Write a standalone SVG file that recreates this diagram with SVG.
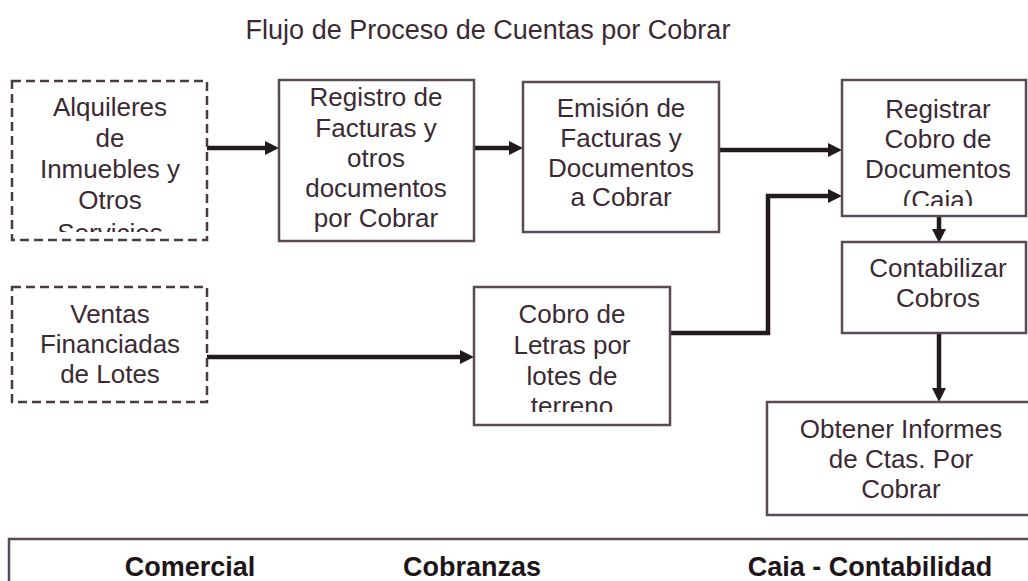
<svg xmlns="http://www.w3.org/2000/svg" width="1028" height="581" viewBox="0 0 1028 581">
<style>
.t{font-family:"Liberation Sans",Arial,sans-serif;font-size:26px;fill:#3b2a33;text-anchor:middle}
.title{font-family:"Liberation Sans",Arial,sans-serif;font-size:27px;fill:#3b2a33;text-anchor:middle}
.lane{font-family:"Liberation Sans",Arial,sans-serif;font-size:27px;font-weight:bold;fill:#1e1519;text-anchor:middle}
.box{fill:#fff;stroke:#5a4a55;stroke-width:2.5}
.dbox{fill:#fff;stroke:#4a3a45;stroke-width:2.5;stroke-dasharray:9 5}
.con{fill:none;stroke:#231a20;stroke-width:4.5}
</style>
<defs>
<marker id="ah" markerUnits="userSpaceOnUse" viewBox="0 -7 14 14" refX="0" refY="0" markerWidth="14" markerHeight="14" orient="auto">
<path d="M0,-7 L14,0 L0,7 z" fill="#231a20"/>
</marker>
<clipPath id="c1"><rect x="12" y="81" width="195" height="151"/></clipPath>
<clipPath id="c4"><rect x="842" y="80" width="185" height="126"/></clipPath>
<clipPath id="c7"><rect x="474" y="287" width="196" height="125"/></clipPath>
</defs>
<rect width="1028" height="581" fill="#fff"/>
<text class="title" x="488" y="39">Flujo de Proceso de Cuentas por Cobrar</text>

<g id="connectors">
<path class="con" d="M207,148 H265" marker-end="url(#ah)"/>
<path class="con" d="M474,148 H509" marker-end="url(#ah)"/>
<path class="con" d="M719,150 H828" marker-end="url(#ah)"/>
<path class="con" d="M207,357 H460" marker-end="url(#ah)"/>
<path class="con" d="M670,333 H768 V196 H828" marker-end="url(#ah)"/>
<path class="con" d="M939,217 V229" marker-end="url(#ah)"/>
<path class="con" d="M939,333 V388" marker-end="url(#ah)"/>
</g>

<g id="n-alquileres">
<rect class="dbox" x="12" y="81" width="195" height="159"/>
<g clip-path="url(#c1)">
<text class="t" x="110" y="116">Alquileres</text>
<text class="t" x="110" y="147">de</text>
<text class="t" x="110" y="178">Inmuebles y</text>
<text class="t" x="110" y="209">Otros</text>
<text class="t" x="110" y="242">Servicios</text>
</g>
</g>

<g id="n-registro">
<rect class="box" x="279" y="80" width="195" height="161"/>
<text class="t" x="376" y="106">Registro de</text>
<text class="t" x="376" y="136.5">Facturas y</text>
<text class="t" x="376" y="167">otros</text>
<text class="t" x="376" y="197">documentos</text>
<text class="t" x="376" y="227">por Cobrar</text>
</g>

<g id="n-emision">
<rect class="box" x="523" y="82" width="196" height="150"/>
<text class="t" x="621" y="117">Emisión de</text>
<text class="t" x="621" y="147">Facturas y</text>
<text class="t" x="621" y="177">Documentos</text>
<text class="t" x="621" y="206">a Cobrar</text>
</g>

<g id="n-registrar">
<rect class="box" x="842" y="80" width="184" height="136"/>
<g clip-path="url(#c4)">
<text class="t" x="938" y="118">Registrar</text>
<text class="t" x="938" y="148">Cobro de</text>
<text class="t" x="938" y="178">Documentos</text>
<text class="t" x="938" y="209">(Caia)</text>
</g>
</g>

<g id="n-contabilizar">
<rect class="box" x="842" y="242" width="184" height="91"/>
<text class="t" x="938" y="277">Contabilizar</text>
<text class="t" x="938" y="307">Cobros</text>
</g>

<g id="n-ventas">
<rect class="dbox" x="12" y="287" width="195" height="115"/>
<text class="t" x="110" y="323">Ventas</text>
<text class="t" x="110" y="353">Financiadas</text>
<text class="t" x="110" y="383">de Lotes</text>
</g>

<g id="n-cobro-letras">
<rect class="box" x="474" y="287" width="196" height="138"/>
<g clip-path="url(#c7)">
<text class="t" x="572" y="323">Cobro de</text>
<text class="t" x="572" y="354">Letras por</text>
<text class="t" x="572" y="385">lotes de</text>
<text class="t" x="572" y="415">terreno</text>
</g>
</g>

<g id="n-obtener">
<rect class="box" x="767" y="402" width="268" height="113"/>
<text class="t" x="901" y="438">Obtener Informes</text>
<text class="t" x="901" y="468">de Ctas. Por</text>
<text class="t" x="901" y="498">Cobrar</text>
</g>

<g id="lanes">
<rect class="box" x="9" y="539" width="1030" height="60"/>
<text class="lane" x="190" y="576">Comercial</text>
<text class="lane" x="472" y="576">Cobranzas</text>
<text class="lane" x="870" y="576">Caia - Contabilidad</text>
</g>
</svg>
